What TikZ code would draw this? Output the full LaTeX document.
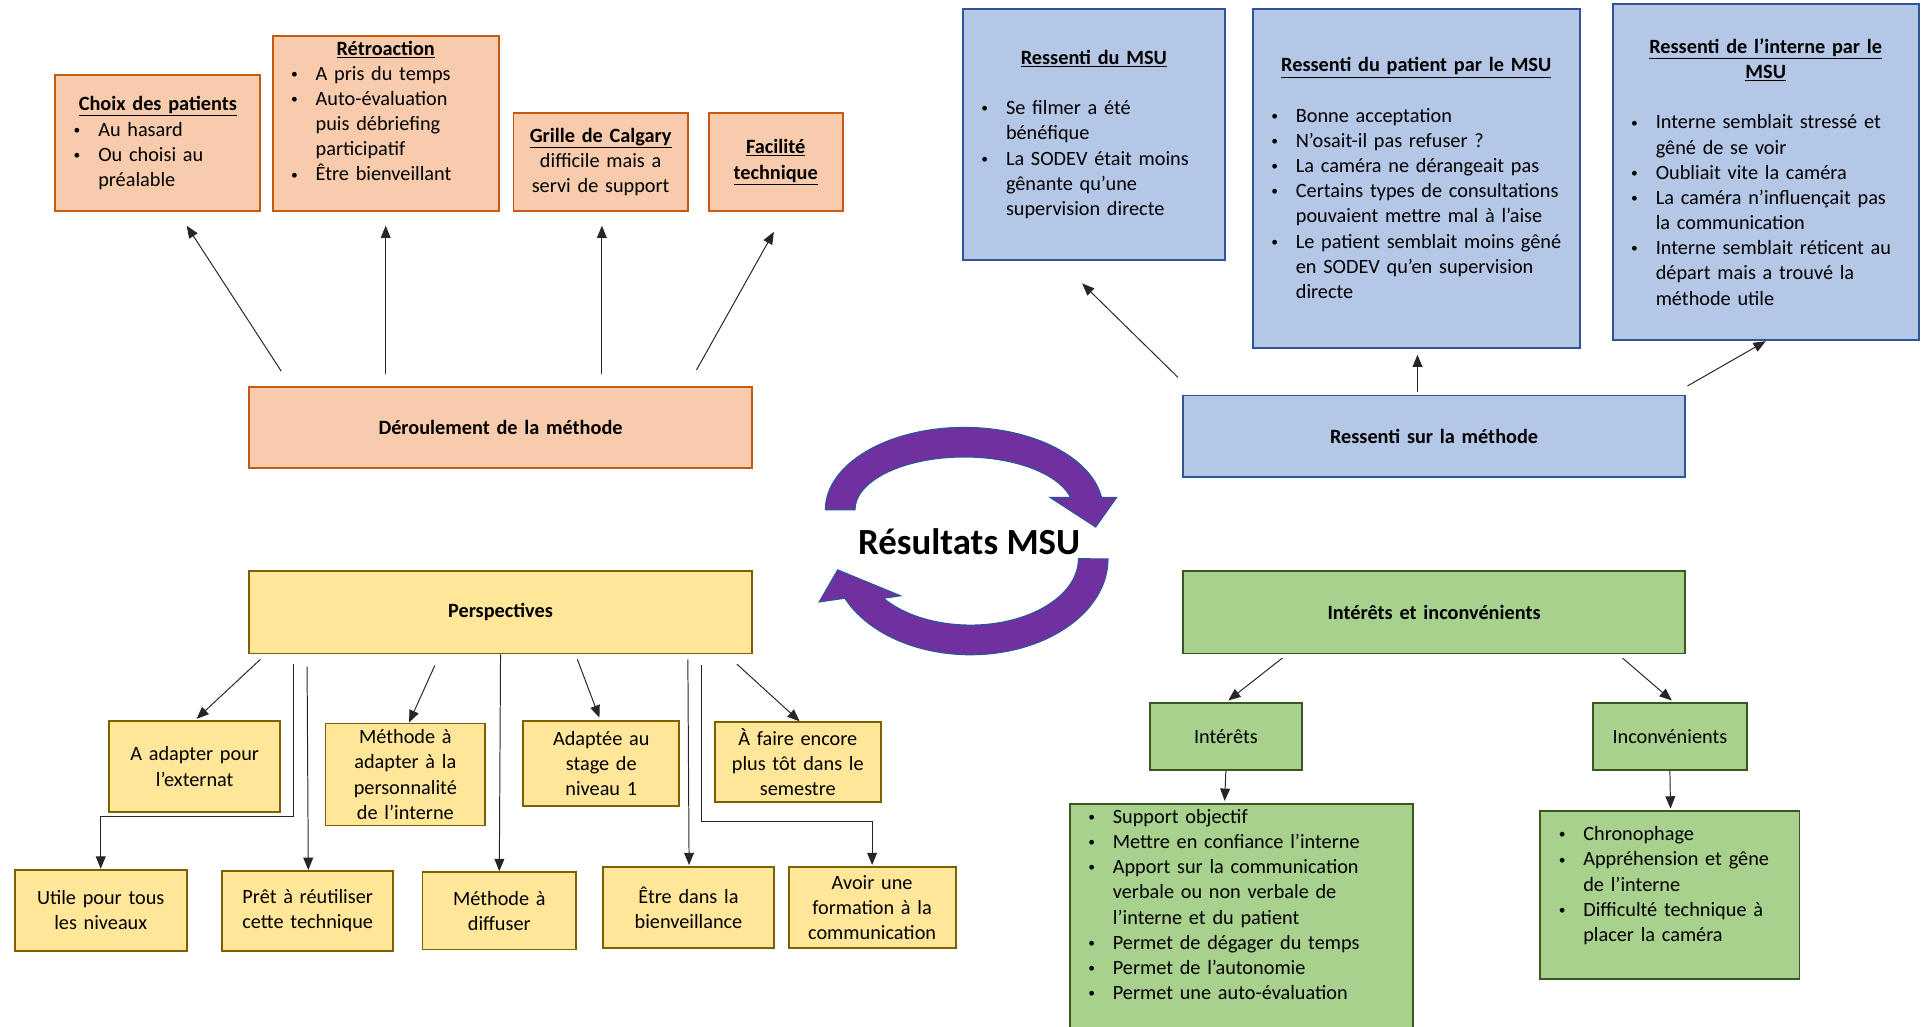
\documentclass[tikz,border=0pt]{standalone}
\usepackage{fontspec}
\setmainfont{Carlito}
\usepackage{tikz}
\usetikzlibrary{arrows.meta,shapes}
\setlength{\parindent}{0pt}

\definecolor{orangefill}{HTML}{F8CBAD}
\definecolor{orangeline}{HTML}{C55A11}
\definecolor{bluefill}{HTML}{B4C7E7}
\definecolor{blueline}{HTML}{2F5597}
\definecolor{yellowfill}{HTML}{FFE699}
\definecolor{yellowline}{HTML}{7F6000}
\definecolor{greenfill}{HTML}{A9D18E}
\definecolor{greenline}{HTML}{385723}
\definecolor{cyclepurple}{HTML}{7030A0}

\newcommand{\puce}[1]{\par\hangindent=28pt\hangafter=1\makebox[28pt][l]{\hspace{8pt}\raisebox{1.5pt}{\fontsize{11}{11}\selectfont\textbullet}}#1}
\newcommand{\titre}[1]{{\centering\textbf{\underline{#1}}\par}}

\begin{document}
\begin{tikzpicture}[x=1pt,y=-1pt,
    font=\fontsize{16.5}{20.5}\selectfont,
    boite/.style={draw,line width=1.5pt,inner xsep=7pt,inner ysep=0pt},
    boiteorange/.style={boite,draw=orangeline,fill=orangefill},
    boitebleue/.style={boite,draw=blueline,fill=bluefill},
    boitejaune/.style={boite,draw=yellowline,fill=yellowfill,align=center},
    boiteverte/.style={boite,draw=greenline,fill=greenfill},
    fleche/.style={-{Triangle[length=10pt,width=8pt]},line width=0.8pt,draw=black!85},
    cycle/.style={fill=cyclepurple,draw=blueline,line width=1pt}]
    \clip (0,0) rectangle (1568,836);

    \node[boiteorange,align=left,text width=153pt,minimum height=111pt] (choix) at (128.5,116.5)
        {\titre{Choix des patients}\puce{Au hasard}\puce{Ou choisi au\newline préalable}\par};
    \node[boiteorange,align=left,text width=170pt,minimum height=143pt] (retro) at (314,100.5)
        {\titre{Rétroaction}\puce{A pris du temps}\puce{Auto-évaluation\newline puis débriefing\newline participatif}\puce{Être bienveillant}\par\rule{0pt}{1pt}};
    \node[boiteorange,align=center,text width=128pt,minimum height=80pt] (grille) at (489,132)
        {\textbf{\underline{Grille de Calgary}}\\ difficile mais a\\ servi de support};
    \node[boiteorange,align=center,text width=95pt,minimum height=80pt] (facil) at (631.5,132)
        {\textbf{\underline{Facilité}}\\ \textbf{\underline{technique}}};
    \node[boiteorange,align=center,text width=395pt,minimum height=66pt] (derou) at (407.5,348)
        {\textbf{Déroulement de la méthode}};

    \node[boitebleue,align=left,text width=199pt,minimum height=205pt] (rmsu) at (890.5,109.5)
        {\titre{Ressenti du MSU}\strut\par\puce{Se filmer a été\newline bénéfique}\puce{La SODEV était moins\newline gênante qu’une\newline supervision directe}\par};
    \node[boitebleue,align=left,text width=252pt,minimum height=276pt] (rpat) at (1153,145)
        {\titre{Ressenti du patient par le MSU}\strut\par\puce{Bonne acceptation}\puce{N’osait-il pas refuser ?}\puce{La caméra ne dérangeait pas}\puce{Certains types de consultations\newline pouvaient mettre mal à l’aise}\puce{Le patient semblait moins gêné\newline en SODEV qu’en supervision\newline directe}\par};
    \node[boitebleue,align=left,text width=235pt,minimum height=274pt] (rint) at (1437.5,140)
        {\titre{Ressenti de l’interne par le}\titre{MSU}\strut\par\puce{Interne semblait stressé et\newline gêné de se voir}\puce{Oubliait vite la caméra}\puce{La caméra n’influençait pas\newline la communication}\puce{Interne semblait réticent au\newline départ mais a trouvé la\newline méthode utile}\par};
    \node[boitebleue,align=center,text width=395pt,minimum height=66pt] (ressmeth) at (1167.5,355)
        {\textbf{Ressenti sur la méthode}};

    \node[boitejaune,text width=395pt,minimum height=67pt] (persp) at (407.5,498.5) {\textbf{Perspectives}};
    \node[boitejaune,text width=125pt,minimum height=74pt] (externat) at (158.5,624) {A adapter pour\\ l’externat};
    \node[boitejaune,text width=116pt,minimum height=83pt] (personnalite) at (330,630.5) {Méthode à\\ adapter à la\\ personnalité\\ de l’interne};
    \node[boitejaune,text width=113pt,minimum height=69pt] (niveau) at (489.5,621.5) {Adaptée au\\ stage de\\ niveau 1};
    \node[boitejaune,text width=121pt,minimum height=65pt] (semestre) at (649.5,620.5) {À faire encore\\ plus tôt dans le\\ semestre};
    \node[boitejaune,text width=126pt,minimum height=66pt] (utile) at (82,741) {Utile pour tous\\ les niveaux};
    \node[boitejaune,text width=125pt,minimum height=65pt] (pret) at (250.5,741.5) {Prêt à réutiliser\\ cette technique};
    \node[boitejaune,text width=111pt,minimum height=63pt] (diffuser) at (406.5,741.5) {Méthode à\\ diffuser};
    \node[boitejaune,text width=125pt,minimum height=66pt] (bienv) at (560.5,739) {Être dans la\\ bienveillance};
    \node[boitejaune,text width=122pt,minimum height=66pt] (formation) at (710,739) {Avoir une\\ formation à la\\ communication};

    \node[boiteverte,align=center,text width=395pt,minimum height=67pt] (interinc) at (1167.5,498.5)
        {\textbf{Intérêts et inconvénients}};
    \node[boiteverte,align=center,text width=110pt,minimum height=55pt] (interets) at (998,599.5) {Intérêts};
    \node[boiteverte,align=center,text width=111pt,minimum height=55pt] (inconv) at (1359.5,599.5) {Inconvénients};
    \node[boiteverte,align=left,text width=265pt,inner ysep=-5pt,anchor=north] (intlist) at (1010.5,654)
        {\puce{\strut Support objectif}\puce{Mettre en confiance l’interne}\puce{Apport sur la communication\newline verbale ou non verbale de\newline l’interne et du patient}\puce{Permet de dégager du temps}\puce{Permet de l’autonomie}\puce{Permet une auto-évaluation}\par\rule{0pt}{50pt}};
    \node[boiteverte,align=left,text width=197pt,minimum height=137pt] (inconvlist) at (1359.5,728.5)
        {\puce{Chronophage}\puce{Appréhension et gêne\newline de l’interne}\puce{Difficulté technique à\newline placer la caméra}\par\strut};

    \draw[cycle] (672,415) arc[start angle=180,end angle=351.4,x radius=113,y radius=67]
        -- (909,405) -- (892,429) -- (855,405) -- (871.6,405)
        arc[start angle=346.6,end angle=180,x radius=89,y radius=43] -- cycle;
    \draw[cycle] (902,455) arc[start angle=0,end angle=155.8,x radius=112,y radius=78]
        -- (667,490) -- (682,464) -- (733,485) -- (719.2,487)
        arc[start angle=143.6,end angle=0,x radius=88,y radius=54] -- cycle;
    \node[font=\bfseries\fontsize{30}{36}\selectfont] (resultats) at (789,441) {Résultats MSU};

    \draw[fleche] ([xshift=-178.5pt,yshift=12pt]derou.north) -- ([xshift=23.5pt,yshift=-11pt]choix.south);
    \draw[fleche] ([xshift=-93.5pt,yshift=10pt]derou.north) -- ([yshift=-11pt]retro.south);
    \draw[fleche] ([xshift=82.5pt,yshift=10pt]derou.north) -- ([xshift=1pt,yshift=-11pt]grille.south);
    \draw[fleche] ([xshift=159.5pt,yshift=13pt]derou.north) -- ([xshift=-1.5pt,yshift=-16pt]facil.south);

    \draw[fleche] ([xshift=-208.5pt,yshift=14pt]ressmeth.north) -- ([xshift=-9.5pt,yshift=-18pt]rmsu.south);
    \draw[fleche] ([xshift=-13.5pt,yshift=2pt]ressmeth.north) -- ([xshift=1pt,yshift=-5pt]rpat.south);
    \draw[fleche] ([xshift=1pt,yshift=7pt]ressmeth.north east) -- (rint.south);

    \draw[fleche] ([xshift=-195.5pt,yshift=-4pt]persp.south) -- ([xshift=1.5pt,yshift=1pt]externat.north);
    \draw[fleche] ([xshift=-168.5pt,yshift=-8pt]persp.south) -- ++(0,124) -| (utile.north);
    \draw[fleche] ([xshift=-157.5pt,yshift=-10pt]persp.south) -- ([xshift=0.5pt]pret.north);
    \draw[fleche] ([xshift=-53.5pt,yshift=-9pt]persp.south) -- ([xshift=3pt]personnalite.north);
    \draw[fleche] (persp.south) -- (diffuser.north);
    \draw[fleche] ([xshift=62.5pt,yshift=-4pt]persp.south) -- ([xshift=-1.5pt,yshift=2pt]niveau.north);
    \draw[fleche] ([xshift=152.5pt,yshift=-4pt]persp.south) -- ([xshift=0.5pt,yshift=1pt]bienv.north);
    \draw[fleche] ([xshift=163.5pt,yshift=-9pt]persp.south) -- ++(0,127) -| ([yshift=1pt]formation.north);
    \draw[fleche] ([xshift=192.5pt,yshift=-8pt]persp.south) -- ([xshift=1.5pt]semestre.north);

    \draw[fleche] ([xshift=-123.5pt,yshift=-3pt]interinc.south) -- ([xshift=2pt,yshift=1pt]interets.north);
    \draw[fleche] ([xshift=153.5pt,yshift=-3pt]interinc.south) -- ([xshift=1.5pt,yshift=1pt]inconv.north);
    \draw[fleche] (interets.south) -- ([xshift=-13.5pt,yshift=2pt]intlist.north);
    \draw[fleche] (inconv.south) -- ([xshift=0.5pt,yshift=1pt]inconvlist.north);
\end{tikzpicture}
\end{document}
